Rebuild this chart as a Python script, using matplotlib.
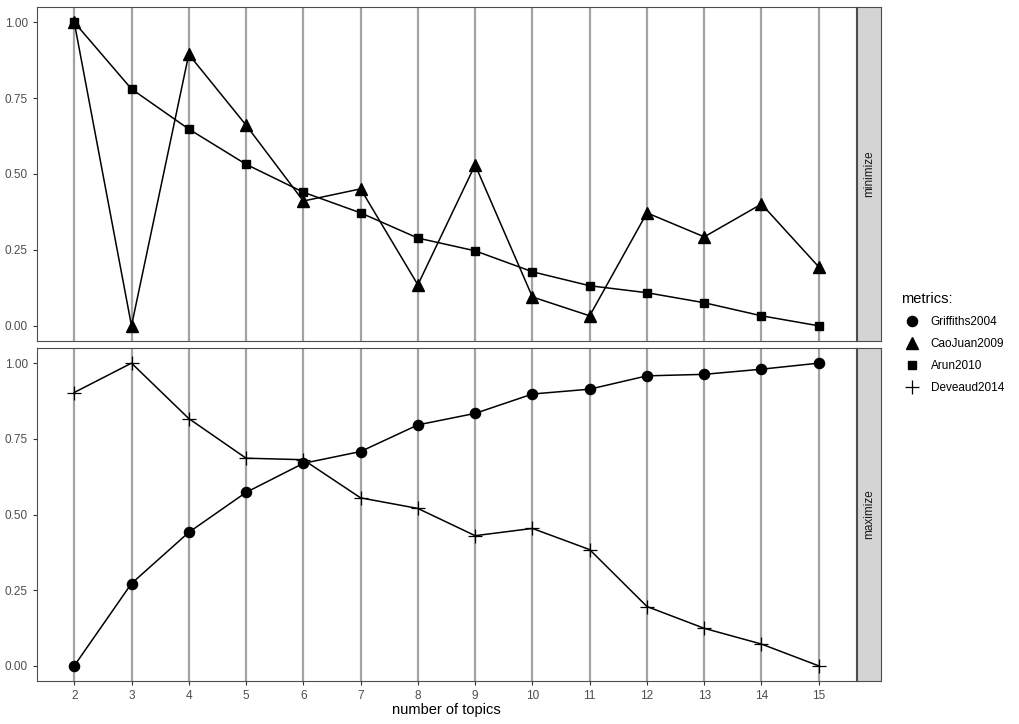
import numpy as np
import matplotlib
matplotlib.use("Agg")
import matplotlib.pyplot as plt
from matplotlib.lines import Line2D

plt.rcParams['font.family'] = ['Liberation Sans', 'DejaVu Sans']

topics = [2, 3, 4, 5, 6, 7, 8, 9, 10, 11, 12, 13, 14, 15]

# minimize panel
caojuan2009 = [1.00, 0.00, 0.894, 0.661, 0.411, 0.451, 0.135, 0.530, 0.095, 0.033, 0.372, 0.293, 0.401, 0.194]
arun2010 = [1.00, 0.78, 0.648, 0.532, 0.440, 0.372, 0.289, 0.247, 0.178, 0.132, 0.109, 0.076, 0.033, 0.00]

# maximize panel
griffiths2004 = [0.00, 0.272, 0.441, 0.573, 0.669, 0.708, 0.796, 0.834, 0.898, 0.914, 0.958, 0.963, 0.980, 1.00]
deveaud2014 = [0.903, 1.00, 0.817, 0.686, 0.681, 0.555, 0.520, 0.430, 0.454, 0.384, 0.196, 0.124, 0.072, 0.00]

metric_names = ['Griffiths2004', 'CaoJuan2009', 'Arun2010', 'Deveaud2014']
y_ticks = [0.0, 0.25, 0.5, 0.75, 1.0]
y_labels = ['0.00', '0.25', '0.50', '0.75', '1.00']

styles = {
    'Griffiths2004': dict(marker='o', ms=7.3),
    'CaoJuan2009': dict(marker='^', ms=8.0),
    'Arun2010': dict(marker='s', ms=6.3),
    'Deveaud2014': dict(marker='+', ms=10, mew=0.9),
}

W, H = 1020, 724
fig = plt.figure(figsize=(W / 100, H / 100), dpi=100)


def fx(px):
    return px / W


def fy(py):
    return 1 - py / H


panels = [
    (7, 341, 'minimize', [('CaoJuan2009', caojuan2009), ('Arun2010', arun2010)]),
    (348, 681, 'maximize', [('Griffiths2004', griffiths2004), ('Deveaud2014', deveaud2014)]),
]

left, right = 37, 856
border = '#4d4d4d'
for i, (top, bottom, label, series) in enumerate(panels):
    ax = fig.add_axes([fx(left), fy(bottom), fx(right - left), fy(top) - fy(bottom)])
    for x in topics:
        ax.axvline(x, color='#a3a3a3', lw=1.6, zorder=0)
    for name, vals in series:
        ax.plot(topics, vals, color='black', lw=1.1, zorder=2, **styles[name],
                mfc='black', mec='black')
    ax.set_xlim(2 - 0.65, 15 + 0.65)
    ax.set_ylim(-0.05, 1.05)
    ax.set_yticks(y_ticks)
    ax.set_yticklabels(y_labels)
    ax.set_xticks(topics)
    ax.tick_params(axis='both', colors='#333333', labelcolor='#4d4d4d', labelsize=8.5,
                   length=3, width=0.8)
    for sp in ax.spines.values():
        sp.set_color(border)
        sp.set_linewidth(0.8)
    if i == 0:
        ax.tick_params(axis='x', labelbottom=False, length=0)
    else:
        ax.set_xlabel('number of topics', fontsize=10.5, labelpad=1)

    # facet strip
    sax = fig.add_axes([fx(right + 1), fy(bottom), fx(24), fy(top) - fy(bottom)])
    sax.set_facecolor('#d4d4d4')
    sax.set_xticks([])
    sax.set_yticks([])
    for sp in sax.spines.values():
        sp.set_color(border)
        sp.set_linewidth(0.8)
    sax.text(0.5, 0.5, label, rotation=90, ha='center', va='center',
             fontsize=8.5, color='#1a1a1a', transform=sax.transAxes)

handles = [Line2D([], [], ls='none', color='black', mfc='black', mec='black', **styles[n])
           for n in metric_names]
fig.legend(handles, metric_names, title='metrics:', loc='upper left',
           bbox_to_anchor=(fx(890), fy(281)), frameon=False, fontsize=8.5,
           title_fontsize=10.5, handlelength=1.85, handletextpad=0.7,
           labelspacing=0.85, alignment='left')

fig.savefig('out.png', dpi=100)
